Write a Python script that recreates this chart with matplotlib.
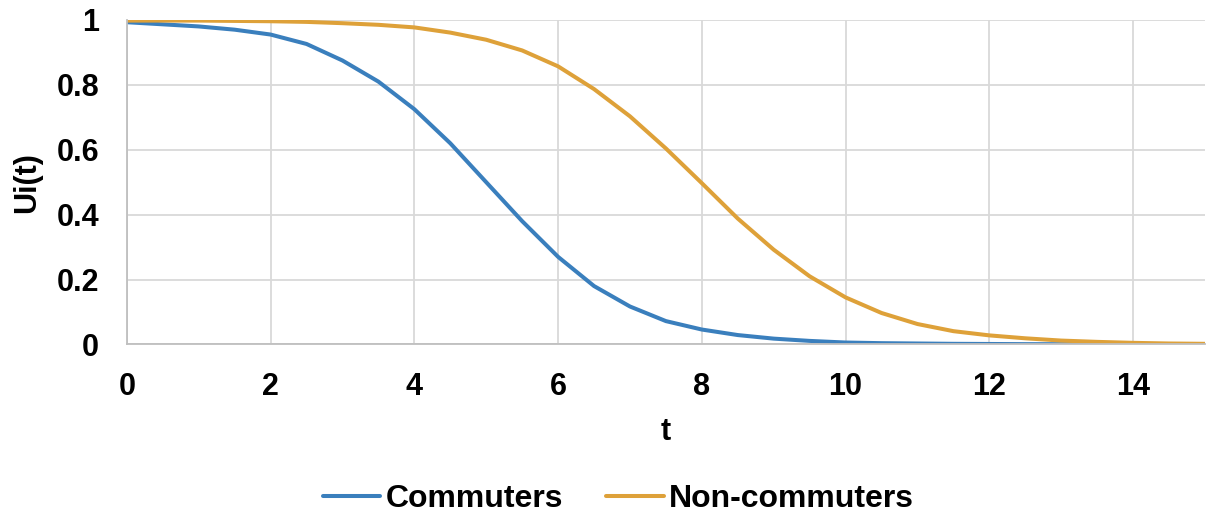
import matplotlib.pyplot as plt
import numpy as np

plt.rcParams['font.family'] = ['Liberation Sans', 'DejaVu Sans']
plt.rcParams['font.weight'] = 'bold'

t = [0, 1, 1.5, 2, 2.5, 3, 3.5, 4, 4.5, 5, 5.5, 6, 6.5, 7, 7.5, 8, 8.5, 9, 9.5,
     10, 10.5, 11, 11.5, 12, 12.5, 13, 13.5, 14, 14.5, 15]
commuters = [0.993, 0.980, 0.970, 0.955, 0.926, 0.875, 0.810, 0.725, 0.620, 0.500, 0.380,
             0.270, 0.180, 0.117, 0.072, 0.046, 0.029, 0.018, 0.011,
             0.006, 0.004, 0.003, 0.002, 0.0015, 0.001, 0.0008, 0.0006, 0.0005, 0.0004, 0.0003]
non_commuters = [0.998, 0.998, 0.997, 0.996, 0.994, 0.99, 0.985, 0.977, 0.961, 0.939, 0.906,
                 0.857, 0.787, 0.703, 0.604, 0.497, 0.388, 0.292, 0.210,
                 0.145, 0.097, 0.063, 0.041, 0.028, 0.019, 0.012, 0.008, 0.005, 0.003, 0.002]

fig = plt.figure(figsize=(12.08, 5.18), dpi=100)
ax = fig.add_axes([0.105, 0.335, 0.8925, 0.6265])

ax.plot(t, commuters, color='#3A7FBD', lw=2.9, label='Commuters', solid_capstyle='round')
ax.plot(t, non_commuters, color='#DEA139', lw=2.9, label='Non-commuters', solid_capstyle='round')

ax.set_xlim(0, 15)
ax.set_ylim(0, 1)
ax.set_xticks(np.arange(0, 15, 2))
ax.set_yticks([0, 0.2, 0.4, 0.6, 0.8, 1])
ax.set_yticklabels(['0', '0.2', '0.4', '0.6', '0.8', '1'])
ax.grid(True, color='#D9D9D9', lw=1.3)
ax.set_axisbelow(True)
for s in ['top', 'right']:
    ax.spines[s].set_visible(False)
for s in ['left', 'bottom']:
    ax.spines[s].set_color('#BFBFBF')
    ax.spines[s].set_linewidth(1.3)
ax.tick_params(length=0, labelsize=22)
ax.tick_params(axis='x', pad=19.5)
ax.tick_params(axis='y', pad=20)
for lab in ax.get_xticklabels() + ax.get_yticklabels():
    lab.set_fontweight('bold')

ax.set_xlabel('t', fontsize=22, fontweight='bold', labelpad=11)
ax.set_ylabel('Ui(t)', fontsize=22, fontweight='bold', labelpad=10)

fig.legend(loc='lower center', bbox_to_anchor=(0.512, -0.03), ncol=2, frameon=False,
           prop={'weight': 'bold', 'size': 23}, handlelength=1.8,
           handletextpad=0.17, columnspacing=1.35, borderpad=0.1)

fig.savefig('out.png', dpi=100)
